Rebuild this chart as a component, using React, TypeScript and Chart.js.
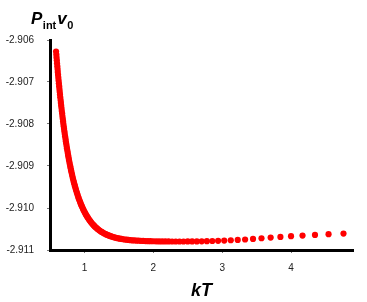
import React, { useEffect, useRef } from "react";
import { Chart, registerables } from "chart.js";

Chart.register(...registerables);

// kT values of the plotted points
const kT = [
  0.588, 0.592, 0.595, 0.599, 0.602, 0.606, 0.610, 0.613, 0.617, 0.621,
  0.625, 0.629, 0.633, 0.637, 0.641, 0.645, 0.649, 0.654, 0.658, 0.662,
  0.667, 0.671, 0.676, 0.680, 0.685, 0.690, 0.694, 0.699, 0.704, 0.709,
  0.714, 0.719, 0.725, 0.730, 0.735, 0.741, 0.746, 0.752, 0.758, 0.763,
  0.769, 0.775, 0.781, 0.787, 0.794, 0.800, 0.806, 0.813, 0.820, 0.826,
  0.833, 0.840, 0.847, 0.855, 0.862, 0.870, 0.877, 0.885, 0.893, 0.901,
  0.909, 0.917, 0.926, 0.935, 0.943, 0.952, 0.962, 0.971, 0.980, 0.990,
  1.000, 1.010, 1.020, 1.031, 1.042, 1.053, 1.064, 1.075, 1.087, 1.099,
  1.111, 1.124, 1.136, 1.149, 1.163, 1.176, 1.190, 1.205, 1.220, 1.235,
  1.250, 1.266, 1.282, 1.299, 1.316, 1.333, 1.351, 1.370, 1.389, 1.408,
  1.429, 1.449, 1.471, 1.493, 1.515, 1.538, 1.563, 1.587, 1.613, 1.639,
  1.667, 1.695, 1.724, 1.754, 1.786, 1.818, 1.852, 1.887, 1.923, 1.961,
  2.000, 2.041, 2.083, 2.128, 2.174, 2.222, 2.273, 2.326, 2.381, 2.439,
  2.500, 2.564, 2.632, 2.703, 2.778, 2.857, 2.941, 3.030, 3.125, 3.226,
  3.333, 3.448, 3.571, 3.704, 3.846, 4.000, 4.167, 4.348, 4.545, 4.762,
];

// P_int v_0 values of the plotted points
const pIntV0 = [
  -2.906275, -2.906345, -2.906415, -2.906485, -2.906554, -2.906623, -2.906692, -2.906761, -2.906829, -2.906897,
  -2.906965, -2.907032, -2.907099, -2.907165, -2.907231, -2.907297, -2.907363, -2.907428, -2.907492, -2.907557,
  -2.90762, -2.907684, -2.907747, -2.907809, -2.907871, -2.907933, -2.907994, -2.908055, -2.908115, -2.908174,
  -2.908234, -2.908292, -2.90835, -2.908408, -2.908465, -2.908522, -2.908578, -2.908633, -2.908688, -2.908742,
  -2.908796, -2.908849, -2.908901, -2.908953, -2.909004, -2.909055, -2.909105, -2.909154, -2.909203, -2.909251,
  -2.909298, -2.909345, -2.90939, -2.909436, -2.90948, -2.909524, -2.909567, -2.909609, -2.909651, -2.909692,
  -2.909732, -2.909771, -2.90981, -2.909848, -2.909885, -2.909921, -2.909956, -2.909991, -2.910025, -2.910058,
  -2.910091, -2.910122, -2.910153, -2.910183, -2.910212, -2.91024, -2.910268, -2.910294, -2.91032, -2.910345,
  -2.91037, -2.910393, -2.910416, -2.910438, -2.910459, -2.910479, -2.910499, -2.910518, -2.910536, -2.910553,
  -2.91057, -2.910585, -2.910601, -2.910615, -2.910629, -2.910642, -2.910654, -2.910666, -2.910677, -2.910687,
  -2.910697, -2.910706, -2.910715, -2.910723, -2.91073, -2.910737, -2.910744, -2.91075, -2.910755, -2.91076,
  -2.910765, -2.910769, -2.910773, -2.910776, -2.910779, -2.910782, -2.910785, -2.910787, -2.910789, -2.910791,
  -2.910792, -2.910793, -2.910795, -2.910796, -2.910796, -2.910797, -2.910798, -2.910798, -2.910798, -2.910798,
  -2.910797, -2.910796, -2.910795, -2.910793, -2.91079, -2.910786, -2.910781, -2.910775, -2.910768, -2.91076,
  -2.91075, -2.910736, -2.91072, -2.910704, -2.910688, -2.910672, -2.910656, -2.91064, -2.910624, -2.910608,
];

const xTicks = [1, 2, 3, 4];
const yTicks = [-2.911, -2.91, -2.909, -2.908, -2.907, -2.906];

const FONT = "'Liberation Sans', Arial, Helvetica, sans-serif";

const yTitlePlugin = {
  id: "yTitle",
  afterDraw(chart: any) {
    const ctx = chart.ctx;
    ctx.save();
    ctx.fillStyle = "#000";
    ctx.textBaseline = "alphabetic";
    ctx.textAlign = "left";
    let x = 31;
    ctx.font = `italic bold 17px ${FONT}`;
    ctx.fillText("P", x, 24);
    x += ctx.measureText("P").width + 0.5;
    ctx.font = `bold 11px ${FONT}`;
    ctx.fillText("int", x, 29);
    x += ctx.measureText("int").width + 1;
    ctx.font = `italic bold 17px ${FONT}`;
    ctx.fillText("v", x, 24);
    x += ctx.measureText("v").width + 0.5;
    ctx.font = `bold 11px ${FONT}`;
    ctx.fillText("0", x, 29);
    ctx.restore();
  },
};

export default function App() {
  const ref = useRef<HTMLCanvasElement | null>(null);

  useEffect(() => {
    if (!ref.current) return;
    const data = kT.map((x, i) => ({ x, y: pIntV0[i] }));
    const chart = new Chart(ref.current, {
      type: "scatter",
      data: {
        datasets: [
          {
            data,
            backgroundColor: "#ff0000",
            borderWidth: 0,
            pointRadius: 3.1,
            pointHoverRadius: 3.1,
          },
        ],
      },
      options: {
        animation: false,
        responsive: true,
        maintainAspectRatio: false,
        layout: { padding: { top: 40, right: 14, left: 0, bottom: 0 } },
        plugins: { legend: { display: false }, tooltip: { enabled: false } },
        scales: {
          x: {
            type: "linear",
            min: 0.5,
            max: 4.9,
            afterBuildTicks: (s: any) => {
              s.ticks = xTicks.map((v) => ({ value: v }));
            },
            afterFit: (s: any) => {
              s.height = 52;
            },
            grid: { drawOnChartArea: false, drawTicks: true, tickLength: 3, color: "#777", lineWidth: 1 },
            border: { display: true, color: "#000", width: 3 },
            ticks: {
              font: { size: 10, family: FONT },
              color: "#222",
              padding: 9,
              callback: (v: any) => String(v),
            },
            title: {
              display: true,
              text: "kT",
              color: "#000",
              font: { size: 18, weight: "bold", style: "italic", family: FONT },
              padding: { top: 0, bottom: 0 },
            },
          },
          y: {
            type: "linear",
            min: -2.911,
            max: -2.906,
            afterBuildTicks: (s: any) => {
              s.ticks = yTicks.map((v) => ({ value: v }));
            },
            afterFit: (s: any) => {
              s.width = 50;
            },
            grid: { drawOnChartArea: false, drawTicks: true, tickLength: 3, color: "#777", lineWidth: 1 },
            border: { display: true, color: "#000", width: 3 },
            ticks: {
              font: { size: 10, family: FONT },
              color: "#222",
              padding: 13,
              callback: (v: any) => Number(v).toFixed(3),
            },
          },
        },
      },
      plugins: [yTitlePlugin],
    } as any);
    return () => chart.destroy();
  }, []);

  return (
    <div style={{ position: "fixed", left: 0, top: 0, width: 367, height: 302, background: "#fff" }}>
      <canvas ref={ref} />
    </div>
  );
}
